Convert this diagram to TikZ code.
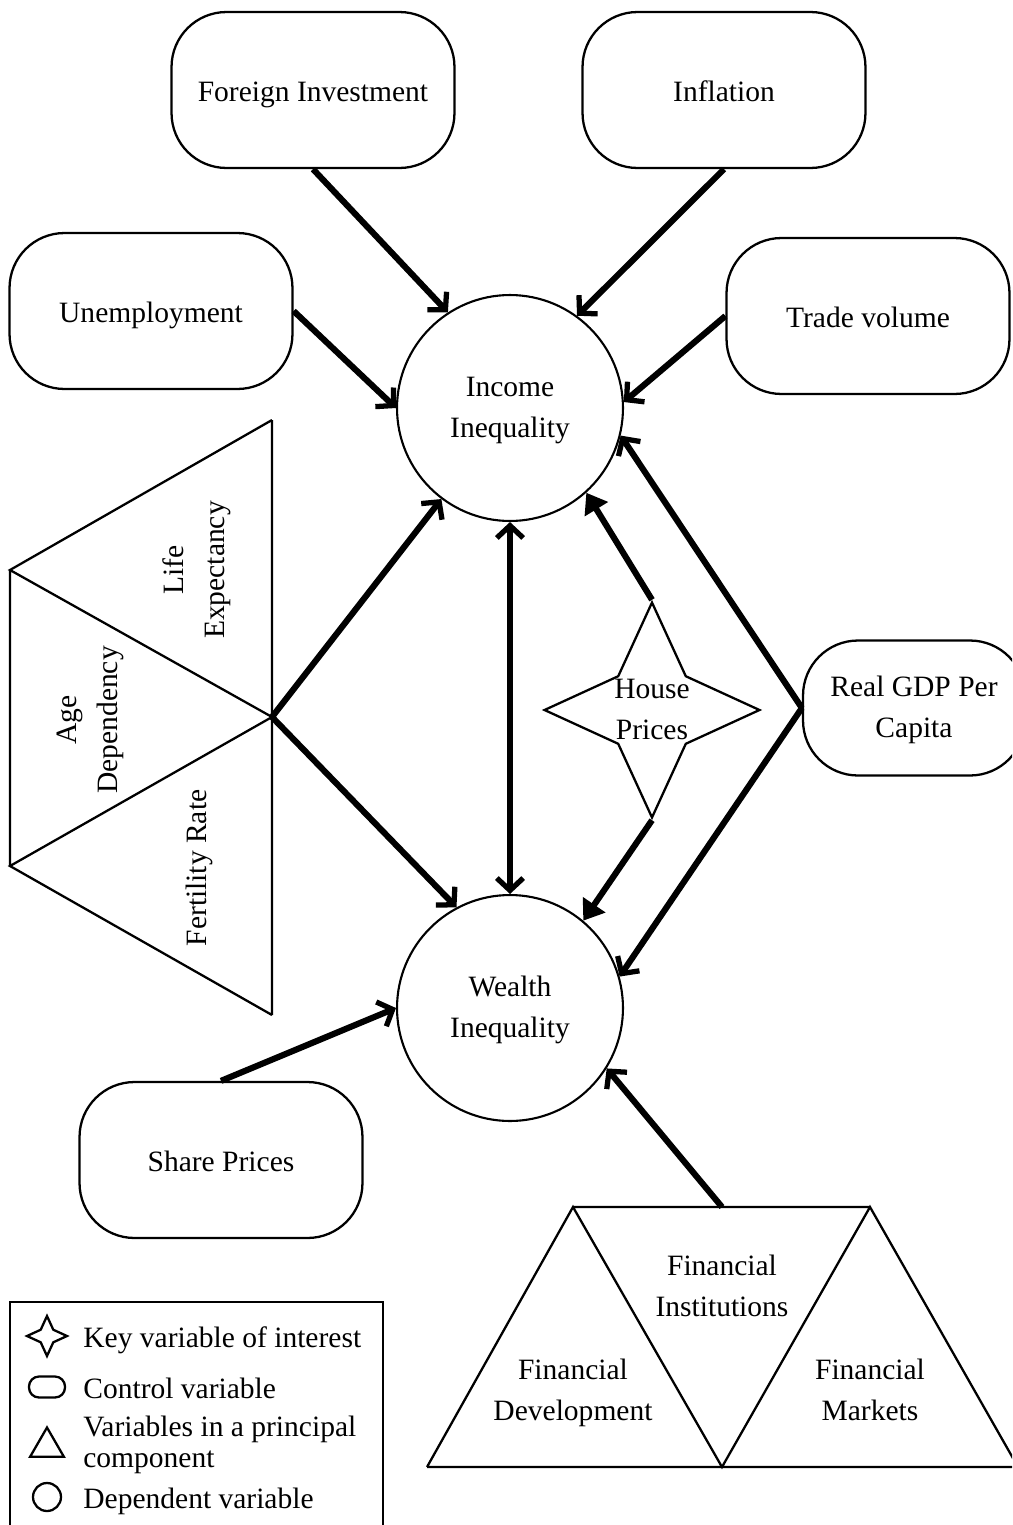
\documentclass[tikz,border=0pt]{standalone}
\usepackage{fontspec}
\setmainfont{Liberation Serif}
\usepackage{tikz}
\usetikzlibrary{arrows.meta, shapes.geometric, positioning}

\tikzset{
  oneline/.style={text height=13.5pt, text depth=0pt},
  twoline/.style={text height=34.5pt, text depth=0.5pt},
  ctrl/.style={draw, line width=1.3pt, rounded corners=1.1cm, minimum width=5.66cm, minimum height=3.12cm, align=center, oneline},
  dep/.style={draw, circle, line width=1.2pt, minimum size=4.52cm, inner sep=0pt, align=center, twoline},
  keyvar/.style={draw, star, star points=4, star point ratio=2.25, line width=1.3pt, inner sep=0pt},
  tri/.style={line width=1.3pt, line join=miter},
  link/.style={line width=3.5pt, -{Straight Barb[length=7pt, width=15pt, line width=3pt]}},
  linkf/.style={line width=3.5pt, -{Triangle[length=11pt, width=15pt]}},
}

\begin{document}
\begin{tikzpicture}[x=0.02cm, y=-0.02cm, font=\fontsize{16.8}{23.3}\selectfont]
\useasboundingbox (0,0) rectangle (1012,1525);
\clip (0,0) rectangle (1012,1525);
% dependent and control variables
\node[dep] (inc) at (510,408) {Income\\Inequality};
\node[dep] (wea) at (510,1008) {Wealth\\Inequality};
\node[ctrl] (fi) at (313,90) {Foreign Investment};
\node[ctrl] (inf) at (724,90) {Inflation};
\node[ctrl] (un) at (151,311) {Unemployment};
\node[ctrl] (tv) at (868,316) {Trade volume};
\node[ctrl, twoline, minimum width=4.44cm, minimum height=2.7cm] (gdp) at (914,708) {Real GDP Per\\Capita};
\node[ctrl] (sp) at (221,1160) {Share Prices};
\node[keyvar, minimum size=4.3cm] (hp) at (652,710) {};
\node[align=center, inner sep=0pt, twoline] (hpt) at (hp.center) {House\\Prices};
% principal component: demography
\coordinate (pa) at (272,420);
\coordinate (pb) at (10,570);
\coordinate (pc) at (272,717);
\coordinate (pd) at (10,866);
\coordinate (pe) at (272,1015);
\draw[tri] (pa) -- (pe) (pb) -- (pd) (pa) -- (pb) -- (pc) -- (pd) -- (pe);
\node[rotate=90, align=center, twoline] (le) at (195,570) {Life\\Expectancy};
\node[rotate=90, align=center, twoline] (ad) at (88,720) {Age\\Dependency};
\node[rotate=90, oneline] (fr) at (195,868) {Fertility Rate};
% principal component: finance
\coordinate (qa) at (573,1207);
\coordinate (qb) at (870,1207);
\coordinate (qc) at (427,1467);
\coordinate (qd) at (722,1467);
\coordinate (qe) at (1018,1467);
\coordinate (fin) at (722,1207);
\draw[tri] (qa) -- (qb) (qc) -- (qe) (qc) -- (qa) -- (qd) -- (qb) -- (qe);
\node[align=center, twoline] (fn) at (722,1287) {Financial\\Institutions};
\node[align=center, twoline] (fd) at (573,1391) {Financial\\Development};
\node[align=center, twoline] (fm) at (870,1391) {Financial\\Markets};
% arrows
\draw[link] (fi.south) -- (inc.123);
\draw[link] (inf.south) -- (inc.54);
\draw[link] (un.east) -- (inc.180);
\draw[link] (tv.west) -- (inc.3);
\draw[link] (pc) -- (inc.233);
\draw[link] (pc) -- (wea.118);
\draw[link, {Straight Barb[length=7pt, width=15pt, line width=3pt]}-{Straight Barb[length=7pt, width=15pt, line width=3pt]}] (inc.south) -- (wea.north);
\draw[linkf] (hp.north) -- (inc.312);
\draw[linkf] (hp.south) -- (wea.50);
\draw[link] (gdp.west) -- (inc.346);
\draw[link] (gdp.west) -- (wea.16);
\draw[link] (sp.north) -- (wea.180);
\draw[link] (fin) -- (wea.328);
% legend
\draw[line width=0.8pt] (10,1302) rectangle (383,1540);
\node[keyvar, minimum size=0.8cm] (lk) at (47,1336) {};
\node[anchor=west, inner sep=0pt, oneline] (lkt) at (83,1336) {Key variable of interest};
\node[draw, line width=1.3pt, rounded corners=0.2cm, minimum width=0.72cm, minimum height=0.42cm] (lc) at (47,1387) {};
\node[anchor=west, inner sep=0pt, oneline] (lct) at (83,1387) {Control variable};
\node[draw, line width=1.3pt, regular polygon, regular polygon sides=3, minimum size=0.78cm, inner sep=0pt] (lt) at (47,1447) {};
\node[anchor=west, inner sep=0pt, align=left, font=\fontsize{16.8}{17.5}\selectfont, text height=29pt, text depth=0.3pt] (ltt) at (83,1442) {Variables in a principal\\component};
\node[draw, circle, line width=1.3pt, minimum size=0.56cm, inner sep=0pt] (ld) at (47,1497) {};
\node[anchor=west, inner sep=0pt, oneline] (ldt) at (83,1497) {Dependent variable};
\end{tikzpicture}
\end{document}
